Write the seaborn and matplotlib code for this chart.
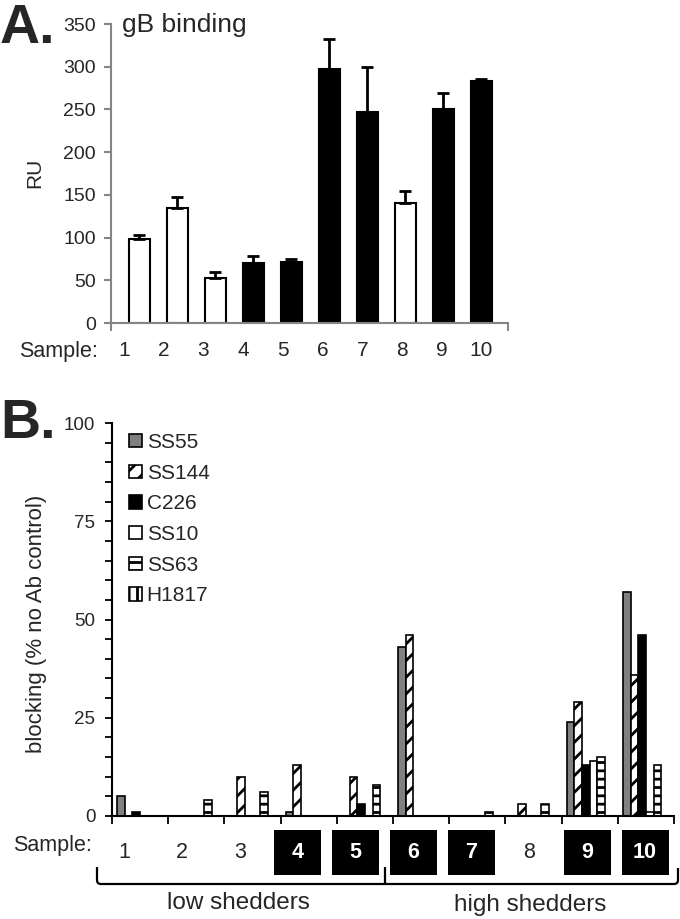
import matplotlib
matplotlib.use("Agg")
import matplotlib.pyplot as plt
import seaborn as sns
import pandas as pd
import numpy as np
from matplotlib.path import Path
from matplotlib.patches import PathPatch, Rectangle

# ---------------- data ----------------
samples = ["1", "2", "3", "4", "5", "6", "7", "8", "9", "10"]
boxed = [False, False, False, True, True, True, True, False, True, True]
gB_binding = [98, 135, 53, 70, 71, 297, 247, 140, 250, 283]
gB_err = [5, 13, 7, 9, 4, 35, 53, 15, 19, 3]

antibodies = ["SS55", "SS144", "C226", "SS10", "SS63", "H1817"]
ss55 = [5, 0, 0, 1, 0, 43, 0, 0, 24, 57]
ss144 = [0, 0, 10, 13, 10, 46, 0, 3, 29, 36]
c226 = [1, 0, 0, 0, 3, 0, 0, 0, 13, 46]
ss10 = [0, 0, 0, 0, 0, 0, 0, 0, 14, 1]
ss63 = [0, 4, 6, 0, 8, 0, 1, 3, 15, 13]
h1817 = [0, 0, 0, 0, 0, 0, 0, 0, 0, 0]

ab_fill = ["#808080", "white", "black", "white", "white", "white"]
ab_hatch = [None, "//", None, None, "--", "||"]

# ---------------- style ----------------
sns.set_style("white")
plt.rcParams["font.family"] = ["Liberation Sans", "DejaVu Sans"]
plt.rcParams["hatch.linewidth"] = 2.0
plt.rcParams["hatch.color"] = "black"

W, H = 680, 919
fig = plt.figure(figsize=(W / 100, H / 100), dpi=100)


def fx(x):
    return x / W


def fy(y):
    return 1 - y / H


# ---------------- panel A ----------------
dfA = pd.DataFrame({"sample": samples, "RU": gB_binding,
                    "boxed": ["yes" if b else "no" for b in boxed]})
axA = fig.add_axes([fx(111), fy(323), (508 - 111) / W, (323 - 24) / H])
sns.barplot(data=dfA, x="sample", y="RU", hue="boxed", order=samples,
            palette={"yes": "black", "no": "white"}, dodge=False, width=0.56,
            edgecolor="black", linewidth=1.5, legend=False, errorbar=None, ax=axA)
xpos = np.arange(len(samples))
axA.errorbar(xpos, gB_binding, yerr=[np.zeros(len(samples)), gB_err], fmt="none",
             ecolor="black", elinewidth=2, capsize=4, capthick=2, zorder=1)
axA.set_xlim(-0.75, 9.70)
axA.set_ylim(0, 350)
axA.set_yticks(np.arange(0, 351, 50))
axA.set_xticks([-0.75, 9.70])
axA.set_xticklabels(["", ""])
axA.set_xlabel("")
axA.set_ylabel("")
for s in ["top", "right"]:
    axA.spines[s].set_visible(False)
for s in ["left", "bottom"]:
    axA.spines[s].set_color("#858585")
    axA.spines[s].set_linewidth(1.5)
axA.tick_params(axis="y", direction="out", length=5, width=1.5, color="#858585",
                labelsize=14, pad=6, left=True)
axA.tick_params(axis="x", direction="out", length=6, width=1.5, color="#858585",
                bottom=True)

fig.text(0.0, fy(43), "A.", fontsize=40, fontweight="bold", ha="left", va="baseline")
fig.text(fx(122), fy(32), "gB binding", fontsize=19, ha="left", va="baseline")
fig.text(fx(35), fy(173), "RU", fontsize=15, rotation=90, ha="center", va="center")
fig.text(fx(19), fy(351), "Sample:", fontsize=15.5, ha="left", va="center")
for i, s in enumerate(samples):
    fig.text(fx(124 + 39.7 * i), fy(351), s, fontsize=15, ha="center", va="center")

# ---------------- panel B ----------------
dfB = pd.DataFrame({
    "sample": samples * len(antibodies),
    "antibody": np.repeat(antibodies, len(samples)),
    "value": ss55 + ss144 + c226 + ss10 + ss63 + h1817,
})
axB = fig.add_axes([fx(112), fy(816), (674 - 112) / W, (816 - 423) / H])
sns.barplot(data=dfB, x="sample", y="value", hue="antibody", order=samples,
            hue_order=antibodies, palette=dict(zip(antibodies, ab_fill)),
            width=0.82, edgecolor="black", linewidth=1.2, legend=False,
            errorbar=None, saturation=1, ax=axB)
for cont, hatch in zip(axB.containers, ab_hatch):
    for p in cont.patches:
        if hatch:
            p.set_hatch(hatch)
axB.set_xlim(-0.5, 9.5)
axB.set_ylim(0, 100)
axB.set_yticks([0, 25, 50, 75, 100])
axB.set_yticks(np.arange(0, 101, 5), minor=True)
axB.set_xticks(np.arange(-0.5, 10, 1.0))
axB.set_xticklabels([""] * 11)
axB.set_xlabel("")
axB.set_ylabel("")
for s in ["top", "right"]:
    axB.spines[s].set_visible(False)
for s in ["left", "bottom"]:
    axB.spines[s].set_color("black")
    axB.spines[s].set_linewidth(1.5)
axB.tick_params(axis="y", which="both", direction="out", length=5, width=1.3,
                color="black", labelsize=13.5, pad=7, left=True)
axB.tick_params(axis="x", direction="out", length=6, width=1.3, color="black",
                bottom=True)

axB.legend(handles=axB.containers, labels=antibodies, loc="upper left",
           bbox_to_anchor=(fx(129), fy(433)), bbox_transform=fig.transFigure,
           frameon=False, fontsize=15, handlelength=0.6, handleheight=0.6,
           handletextpad=0.25, labelspacing=0.56, borderpad=0, borderaxespad=0)

fig.text(0.0, fy(438), "B.", fontsize=40, fontweight="bold", ha="left", va="baseline")
fig.text(fx(37), fy(624), "blocking (% no Ab control)", fontsize=16, rotation=90,
         ha="center", va="center")

fig.text(fx(13), fy(845), "Sample:", fontsize=15.5, ha="left", va="center")
for i, (s, b) in enumerate(zip(samples, boxed)):
    cx = 124 + 57.9 * i
    if b:
        fig.patches.append(Rectangle((fx(cx - 23.5), fy(875)), 47 / W, 45 / H,
                                     transform=fig.transFigure, facecolor="black",
                                     edgecolor="none"))
        fig.text(fx(cx), fy(853), s, fontsize=15.5, fontweight="bold", color="white",
                 ha="center", va="center")
    else:
        fig.text(fx(cx), fy(853), s, fontsize=15.5, ha="center", va="center")

# bracket
verts = [(97, 867), (97, 880), (97, 884), (101, 884), (674, 884), (678, 884),
         (678, 880), (678, 868)]
codes = [Path.MOVETO, Path.LINETO, Path.CURVE3, Path.CURVE3, Path.LINETO,
         Path.CURVE3, Path.CURVE3, Path.LINETO]
path = Path([(fx(x), fy(y)) for x, y in verts], codes)
fig.patches.append(PathPatch(path, transform=fig.transFigure, fill=False,
                             edgecolor="black", linewidth=1.6))
mid = Path([(fx(385), fy(884)), (fx(385), fy(867))], [Path.MOVETO, Path.LINETO])
fig.patches.append(PathPatch(mid, transform=fig.transFigure, fill=False,
                             edgecolor="black", linewidth=1.6))
fig.text(fx(238.5), fy(903), "low shedders", fontsize=17.5, ha="center", va="center")
fig.text(fx(530), fy(905), "high shedders", fontsize=17.5, ha="center", va="center")

fig.savefig("out.png", dpi=100)
